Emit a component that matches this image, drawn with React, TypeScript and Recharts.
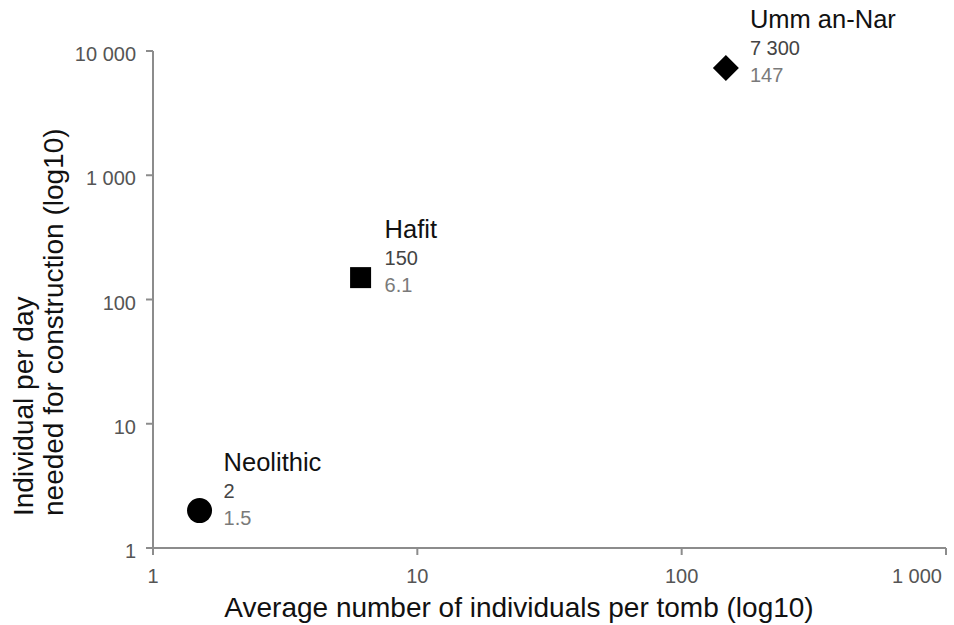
import React from "react";
import { ScatterChart, Scatter, XAxis, YAxis, Label } from "recharts";

// Periods, with average individuals per tomb (x) and person-days to build (y)
const periods = ["Neolithic", "Hafit", "Umm an-Nar"];
const individualsPerTomb = [1.5, 6.1, 147];
const personDays = [2, 150, 7300];

const xTicks = [1, 10, 100, 1000];
const yTicks = [1, 10, 100, 1000, 10000];

const markers = ["circle", "square", "diamond"];

const FONT = '"Liberation Sans", Arial, Helvetica, sans-serif';
const AXIS = "#8c8c8c";
const TICK_COLOR = "#555";

// 7300 -> "7 300"
const fmt = (v: number) => String(v).replace(/\B(?=(\d{3})+(?!\d))/g, " ");

const points = periods.map((name, i) => ({
  name,
  x: individualsPerTomb[i],
  y: personDays[i],
  marker: markers[i],
}));

const XTick = (props: any) => {
  const { x, y, payload } = props;
  const last = payload.value === xTicks[xTicks.length - 1];
  return (
    <text
      x={last ? x + 4 : x}
      y={y + 14}
      textAnchor={last ? "end" : "middle"}
      fontSize={20}
      fill={TICK_COLOR}
      fontFamily={FONT}
    >
      {fmt(payload.value)}
    </text>
  );
};

const YTick = (props: any) => {
  const { x, y, payload } = props;
  return (
    <text
      x={x}
      y={y + 10}
      textAnchor="end"
      fontSize={20}
      fill={TICK_COLOR}
      fontFamily={FONT}
    >
      {fmt(payload.value)}
    </text>
  );
};

const PointShape = (props: any) => {
  const { cx, cy, payload } = props;
  if (cx == null || cy == null) return null;
  let mark;
  if (payload.marker === "circle") {
    mark = <circle cx={cx} cy={cy} r={12.5} fill="#000" />;
  } else if (payload.marker === "square") {
    mark = <rect x={cx - 10.5} y={cy - 10.5} width={21} height={21} fill="#000" />;
  } else {
    mark = (
      <polygon
        points={`${cx},${cy - 13} ${cx + 13},${cy} ${cx},${cy + 13} ${cx - 13},${cy}`}
        fill="#000"
      />
    );
  }
  const tx = cx + 24;
  return (
    <g>
      {mark}
      <text x={tx} y={cy - 40} fontSize={25.5} fill="#111" fontFamily={FONT}>
        {payload.name}
      </text>
      <text x={tx} y={cy - 13} fontSize={20} fill="#444" fontFamily={FONT}>
        {fmt(payload.y)}
      </text>
      <text x={tx} y={cy + 14} fontSize={20} fill="#7a7a7a" fontFamily={FONT}>
        {fmt(payload.x)}
      </text>
    </g>
  );
};

export default function App() {
  return (
    <div style={{ position: "absolute", left: 0, top: 0, background: "#fff" }}>
      <ScatterChart
        width={954}
        height={625}
        margin={{ top: 51, right: 8, bottom: 0, left: 0 }}
      >
        <XAxis
          type="number"
          dataKey="x"
          scale="log"
          domain={[1, 1000]}
          ticks={xTicks}
          height={77}
          tickSize={7}
          tickMargin={14}
          axisLine={{ stroke: AXIS, strokeWidth: 2 }}
          tickLine={{ stroke: AXIS, strokeWidth: 2 }}
          tick={<XTick />}
        >
          <Label
            content={() => (
              <text
                x={519}
                y={617}
                textAnchor="middle"
                fontSize={28}
                fill="#111"
                fontFamily={FONT}
              >
                Average number of individuals per tomb (log10)
              </text>
            )}
          />
        </XAxis>
        <YAxis
          type="number"
          dataKey="y"
          scale="log"
          domain={[1, 10000]}
          ticks={yTicks}
          width={153}
          tickSize={7}
          tickMargin={10}
          axisLine={{ stroke: AXIS, strokeWidth: 2 }}
          tickLine={{ stroke: AXIS, strokeWidth: 2 }}
          tick={<YTick />}
        >
          <Label
            content={() => (
              <text
                transform="translate(33,516) rotate(-90)"
                fontSize={28}
                fill="#111"
                fontFamily={FONT}
              >
                <tspan x={0} y={0}>Individual per day</tspan>
                <tspan x={0} y={30}>needed for construction (log10)</tspan>
              </text>
            )}
          />
        </YAxis>
        {points.map((p) => (
          <Scatter
            key={p.name}
            data={[p]}
            shape={PointShape}
            isAnimationActive={false}
          />
        ))}
      </ScatterChart>
    </div>
  );
}
